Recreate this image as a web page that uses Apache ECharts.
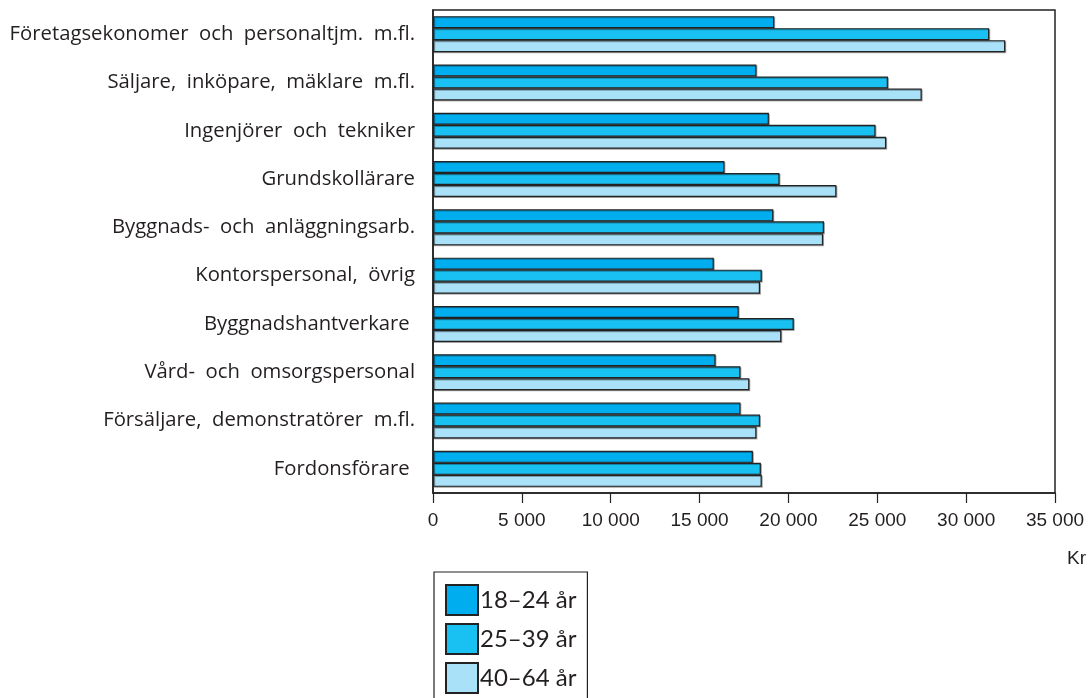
<!DOCTYPE html>
<html><head><meta charset="utf-8">
<script src="https://cdn.jsdelivr.net/npm/echarts@6/dist/echarts.min.js"></script>
<style>html,body{margin:0;padding:0;background:#fff}#c{width:1091px;height:698px}</style>
</head><body><div id="c"></div>
<script>
const categories = [
  'Företagsekonomer  och  personaltjm.  m.fl.',
  'Säljare,  inköpare,  mäklare  m.fl.',
  'Ingenjörer  och  tekniker',
  'Grundskollärare',
  'Byggnads-  och  anläggningsarb.',
  'Kontorspersonal,  övrig',
  'Byggnadshantverkare ',
  'Vård-  och  omsorgspersonal',
  'Försäljare,  demonstratörer  m.fl.',
  'Fordonsförare '
];
const seriesNames = ['18–24 år', '25–39 år', '40–64 år'];
const age18_24 = [19200, 18200, 18900, 16400, 19150, 15800, 17200, 15900, 17300, 18000];
const age25_39 = [31300, 25600, 24900, 19500, 22000, 18500, 20300, 17300, 18400, 18450];
const age40_64 = [32200, 27500, 25500, 22700, 21950, 18400, 19600, 17800, 18200, 18500];
const xTicks = [0, 5000, 10000, 15000, 20000, 25000, 30000, 35000];
const unitLabel = 'Kr';

const colors = ['#00aeef', '#18c1f2', '#a9e1f8'];
const textColor = '#231f20';
const chart = echarts.init(document.getElementById('c'), null, {renderer: 'canvas'});
const mk = (name, data, i) => ({
  name, type: 'bar', data,
  barWidth: 12, barGap: '0%',
  itemStyle: {color: colors[i], borderColor: '#222', borderWidth: 1.2,
    shadowColor: 'rgba(0,0,0,0.3)', shadowOffsetX: 1, shadowOffsetY: 1, shadowBlur: 0},
  emphasis: {disabled: true}, animation: false
});
chart.setOption({
  animation: false,
  grid: {left: 433, right: 36, top: 10, height: 483, show: true, borderColor: '#222', borderWidth: 1.5, containLabel: false},
  xAxis: {
    type: 'value', min: xTicks[0], max: xTicks[xTicks.length - 1], interval: xTicks[1] - xTicks[0],
    axisLine: {show: true, lineStyle: {color: '#222', width: 1.5}},
    axisTick: {show: true, inside: false, length: 10, lineStyle: {color: '#222', width: 1.2}},
    splitLine: {show: false},
    axisLabel: {margin: 18, color: textColor, fontSize: 19, fontFamily: 'Liberation Sans',
      formatter: v => String(v).replace(/\B(?=(\d{3})+(?!\d))/g, ' ')}
  },
  yAxis: {
    type: 'category', data: categories, inverse: true,
    axisLine: {show: true, lineStyle: {color: '#222', width: 1.5}},
    axisTick: {show: false},
    axisLabel: {margin: 18, color: textColor, fontSize: 20.3, fontFamily: 'Open Sans'}
  },
  legend: {
    orient: 'vertical', left: 434, top: 572, height: 200,
    icon: 'rect',
    itemWidth: 32, itemHeight: 30, itemGap: 7,
    padding: [12, 11, 12, 11],
    borderColor: '#222', borderWidth: 1.2,
    selectedMode: false,
    textStyle: {fontSize: 24, color: textColor, fontFamily: 'Lato', padding: [0, 0, 0, -3]},
    data: seriesNames
  },
  graphic: [{type: 'text', right: 5, top: 549, style: {text: unitLabel, fontSize: 19, fontFamily: 'Liberation Sans', fill: textColor}}],
  series: [mk(seriesNames[0], age18_24, 0), mk(seriesNames[1], age25_39, 1), mk(seriesNames[2], age40_64, 2)]
});
</script></body></html>
